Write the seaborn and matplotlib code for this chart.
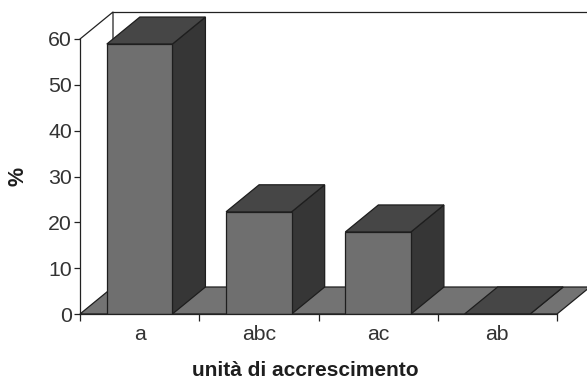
# Libraries
# ===================================================
import pandas as pd
import seaborn as sns
import matplotlib
matplotlib.use('Agg')
import matplotlib.pyplot as plt
from matplotlib.patches import Polygon

# Data
# ===================================================
categories = ['a', 'abc', 'ac', 'ab']
values = [58.9, 22.3, 17.9, 0]
y_ticks = [0, 10, 20, 30, 40, 50, 60]

df = pd.DataFrame({'unit': categories, 'pct': values})

# Style
# ===================================================
W, H = 587, 380
text_color = '#333333'
front_color = '#6f6f6f'
top_color = '#464646'
side_color = '#363636'
floor_color = '#737373'
edge_color = '#1e1e1e'

sns.set_style('white')
plt.rcParams['font.family'] = ['Liberation Sans', 'DejaVu Sans']

fig = plt.figure(figsize=(W / 100, H / 100), dpi=100)
ax = fig.add_axes([80 / W, 1 - 314 / H, 477 / W, 275 / H])

# Front faces of the bars
sns.barplot(data=df, x='unit', y='pct', ax=ax, width=0.55, color=front_color,
            saturation=1, edgecolor=edge_color, linewidth=0.9, zorder=4)

ax.set_xlim(-0.5, 3.5)
ax.set_ylim(0, 60)

# 3D depth, in data units (33 px right, 27 px up)
dx = 33 / (477 / 4)
dy = 27 / (275 / 60)
x0, x1 = ax.get_xlim()
y0, y1 = ax.get_ylim()


def depth_face(points, color, zorder):
    ax.add_patch(Polygon(points, closed=True, facecolor=color, edgecolor=edge_color,
                         linewidth=0.9, clip_on=False, zorder=zorder))


# Floor and back wall
depth_face([(x0, y0), (x1, y0), (x1 + dx, y0 + dy), (x0 + dx, y0 + dy)], floor_color, 1)
wall = dict(color='#222222', linewidth=0.9, clip_on=False, zorder=0.5)
ax.plot([x0, x0 + dx, x0 + dx], [y1, y1 + dy, y0 + dy], **wall)
ax.plot([x0 + dx, x1 + dx], [y1 + dy, y1 + dy], **wall)

# Top and side faces taken from the drawn bars
for bar in ax.patches[:len(categories)]:
    left, right = bar.get_x(), bar.get_x() + bar.get_width()
    top = bar.get_height()
    depth_face([(right, y0), (right + dx, y0 + dy), (right + dx, top + dy), (right, top)],
               side_color, 3)
    depth_face([(left, top), (right, top), (right + dx, top + dy), (left + dx, top + dy)],
               top_color, 3)

# Axes
# ===================================================
sns.despine(ax=ax, top=True, right=True)
for side in ['left', 'bottom']:
    ax.spines[side].set_color('#222222')
    ax.spines[side].set_linewidth(0.9)
    ax.spines[side].set_zorder(5)

ax.set_yticks(y_ticks)
ax.set_xticks(range(len(categories)))
ax.set_xticklabels(categories)
ax.set_xticks([i - 0.5 for i in range(len(categories) + 1)], minor=True)
ax.tick_params(axis='y', which='major', left=True, length=4.3, width=0.9, color='#222222',
               labelsize=15.3, labelcolor=text_color, pad=1.5)
ax.tick_params(axis='x', which='major', bottom=False, length=0,
               labelsize=15.3, labelcolor=text_color, pad=8)
ax.tick_params(axis='x', which='minor', bottom=True, length=4.7, width=0.9, color='#222222')

ax.set_xlabel('unità di accrescimento', fontsize=15, fontweight='bold', color='#1e1e1e')
ax.xaxis.set_label_coords(225 / 477, -47 / 275)
ax.set_ylabel('%', fontsize=15.5, fontweight='bold', color='#1e1e1e')
ax.yaxis.set_label_coords(-52 / 477, 0.5)

# Save the figure
plt.savefig('out.png', dpi=100)
